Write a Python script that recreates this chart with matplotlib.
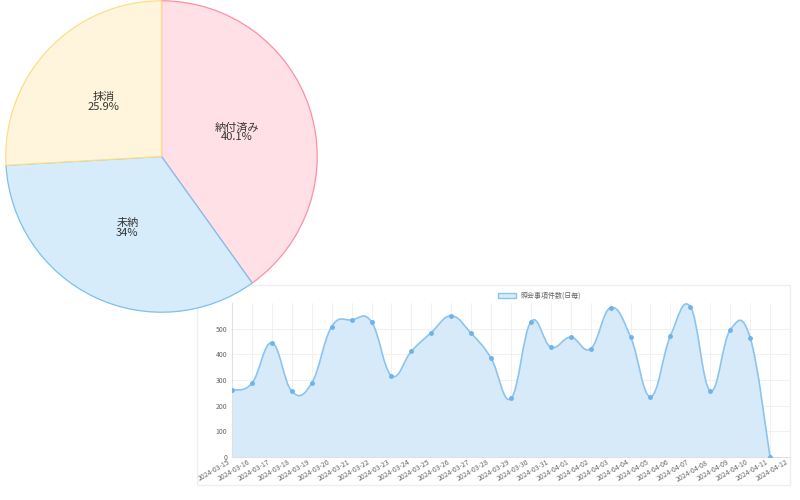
import matplotlib
matplotlib.use("Agg")
import matplotlib.pyplot as plt
import numpy as np
from matplotlib.path import Path
from matplotlib.patches import PathPatch, Rectangle

plt.rcParams['font.family'] = ['Noto Sans CJK JP', 'DejaVu Sans']

pie_labels = ['納付済み', '未納', '抹消']
pie_values = [40.1, 34, 25.9]
pie_texts = ['40.1%', '34%', '25.9%']
pie_fill = ['#ffe0e6', '#d7ecfb', '#fff5dd']
pie_edge = ['#ff8fa6', '#7cc0f0', '#ffdc8a']

dates = ['2024-03-15','2024-03-16','2024-03-17','2024-03-18','2024-03-19','2024-03-20',
         '2024-03-21','2024-03-22','2024-03-23','2024-03-24','2024-03-25','2024-03-26',
         '2024-03-27','2024-03-28','2024-03-29','2024-03-30','2024-03-31','2024-04-01',
         '2024-04-02','2024-04-03','2024-04-04','2024-04-05','2024-04-06','2024-04-07',
         '2024-04-08','2024-04-09','2024-04-10','2024-04-11','2024-04-12']
counts = [260, 287, 445, 256, 288, 508, 534, 527, 317, 412, 485, 550, 482, 385, 228,
          527, 428, 467, 422, 582, 468, 235, 472, 585, 258, 495, 465, 0]
series_label = '照会事項件数(日毎)'

fig = plt.figure(figsize=(8, 5), dpi=100)

fig.patches.append(Rectangle((197/800, 15/500), 593/800, 200/500, transform=fig.transFigure,
                             fill=False, edgecolor='#eeeeee', lw=1, zorder=0))

ax = fig.add_axes([232/800, 43/500, 558/800, 154/500])
x = np.arange(len(counts))
y = np.array(counts, dtype=float)
t = 0.4
verts = [(x[0], y[0])]
codes = [Path.MOVETO]
for i in range(len(x) - 1):
    p0 = (x[i-1], y[i-1]) if i > 0 else (x[i], y[i])
    p1 = (x[i], y[i]); p2 = (x[i+1], y[i+1])
    p3 = (x[i+2], y[i+2]) if i + 2 < len(x) else p2
    c1 = (p1[0] + (p2[0]-p0[0])*t/2, p1[1] + (p2[1]-p0[1])*t/2)
    c2 = (p2[0] - (p3[0]-p1[0])*t/2, p2[1] - (p3[1]-p1[1])*t/2)
    c1 = (c1[0], max(c1[1], 0)); c2 = (c2[0], max(c2[1], 0))
    verts += [c1, c2, p2]
    codes += [Path.CURVE4]*3
line_path = Path(verts, codes)
fill_path = Path(verts + [(x[-1], 0), (x[0], 0), (x[0], y[0])],
                 codes + [Path.LINETO, Path.LINETO, Path.CLOSEPOLY])
ax.add_patch(PathPatch(fill_path, facecolor='#d7eafa', edgecolor='none', zorder=1))
ax.add_patch(PathPatch(line_path, facecolor='none', edgecolor='#8cc4f0', lw=1.2, zorder=2))
ax.plot(x, y, 'o', ms=2.5, color='#6fb3ea', zorder=3)
ax.set_xlim(0, 27.75)
ax.set_ylim(0, 600)
ax.set_yticks([0, 100, 200, 300, 400, 500])
ax.set_xticks(np.arange(len(dates)))
ax.set_xticklabels(dates, rotation=30, ha='right', fontsize=5, color='#666666')
ax.tick_params(axis='y', labelsize=5, colors='#666666', length=0)
ax.tick_params(axis='x', length=0, pad=1)
ax.grid(True, color='#efefef', lw=0.6)
ax.set_axisbelow(True)
for s in ['top', 'right']:
    ax.spines[s].set_visible(False)
for s in ['left', 'bottom']:
    ax.spines[s].set_color('#e0e0e0')
h = Rectangle((0, 0), 1, 1, facecolor='#d7eafa', edgecolor='#8cc4f0')
leg = fig.legend([h], [series_label], loc='center', bbox_to_anchor=(540/800, 1 - 296/500),
                 fontsize=5, frameon=False, handlelength=2.5, handleheight=0.8)
for tx in leg.get_texts():
    tx.set_color('#666666')

pax = fig.add_axes([5/800, 1 - 313/500, 313/800, 313/500], zorder=5)
wedges, _ = pax.pie(pie_values, startangle=90, counterclock=False, colors=pie_fill,
                    wedgeprops=dict(linewidth=1, edgecolor='white'), radius=1)
for w, ec in zip(wedges, pie_edge):
    w.set_edgecolor(ec)
    w.set_linewidth(0.9)
ang = 90.0
for lab, v, txt in zip(pie_labels, pie_values, pie_texts):
    mid = np.deg2rad(ang - v * 3.6 / 2)
    ang -= v * 3.6
    pax.text(0.51*np.cos(mid), 0.51*np.sin(mid), f'{lab}\n{txt}', ha='center', va='center',
             fontsize=8, color='#333333', linespacing=0.95)
pax.set_xlim(-1.005, 1.005)
pax.set_ylim(-1.005, 1.005)
pax.set_aspect('equal')

fig.savefig('out.png', dpi=100)
